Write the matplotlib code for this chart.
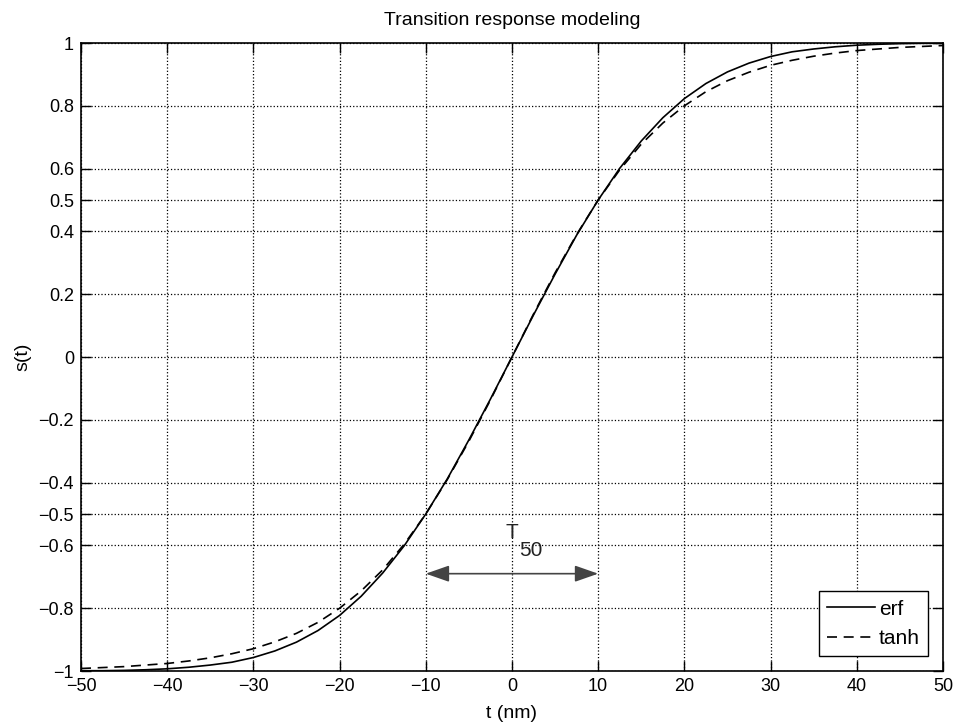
import matplotlib.pyplot as plt


# values

t_nm = [
    -50, -47.5, -45, -42.5, -40, -37.5, -35, -32.5, -30, -27.5,
    -25, -22.5, -20, -17.5, -15, -12.5, -10, -7.5, -5, -2.5,
    0,
    2.5, 5, 7.5, 10, 12.5, 15, 17.5, 20, 22.5,
    25, 27.5, 30, 32.5, 35, 37.5, 40, 42.5, 45, 47.5, 50
]

s_erf = [
    -0.999, -0.999, -0.998, -0.996, -0.993, -0.988, -0.981, -0.972, -0.957, -0.936,
    -0.908, -0.871, -0.823, -0.762, -0.688, -0.601, -0.500, -0.388, -0.264, -0.134,
    0.0,
    0.134, 0.264, 0.388, 0.500, 0.601, 0.688, 0.762, 0.823, 0.871,
    0.908, 0.936, 0.957, 0.972, 0.981, 0.988, 0.993, 0.996, 0.998, 0.999, 0.999
]

s_tanh = [
    -0.992, -0.989, -0.986, -0.981, -0.976, -0.968, -0.958, -0.945, -0.929, -0.907,
    -0.880, -0.845, -0.800, -0.745, -0.678, -0.596, -0.500, -0.390, -0.268, -0.137,
    0.0,
    0.137, 0.268, 0.390, 0.500, 0.596, 0.678, 0.745, 0.800, 0.845,
    0.880, 0.907, 0.929, 0.945, 0.958, 0.968, 0.976, 0.981, 0.986, 0.989, 0.992
]

x_ticks = [-50, -40, -30, -20, -10, 0, 10, 20, 30, 40, 50]

y_ticks = [-1, -0.8, -0.6, -0.5, -0.4, -0.2, 0, 0.2, 0.4, 0.5, 0.6, 0.8, 1]

y_tick_labels = [
    "\u22121", "\u22120.8", "\u22120.6", "\u22120.5", "\u22120.4", "\u22120.2",
    "0", "0.2", "0.4", "0.5", "0.6", "0.8", "1"
]

t50_span = [-10, 10]
t50_level = -0.69


plt.rcParams["font.family"] = ["Liberation Sans", "DejaVu Sans"]


def plot_transition_response():

    fig = plt.figure(
        figsize=(9.62, 7.23),
        dpi=100
    )

    ax = fig.add_axes(
        [0.0842, 0.0719, 0.896, 0.8686]
    )


    ax.plot(
        t_nm,
        s_erf,
        color="black",
        linewidth=1.2,
        label="erf"
    )

    ax.plot(
        t_nm,
        s_tanh,
        color="black",
        linewidth=1.2,
        linestyle=(0, (6, 4)),
        label="tanh"
    )


    # T50 double arrow

    ax.annotate(
        "",
        xy=(t50_span[0], t50_level),
        xytext=(t50_span[1], t50_level),
        arrowprops=dict(
            arrowstyle="<|-|>,head_length=0.8,head_width=0.28",
            color="#444444",
            linewidth=1.2,
            mutation_scale=18,
            shrinkA=0,
            shrinkB=0
        )
    )

    ax.text(
        0.0,
        -0.56,
        "T",
        fontsize=15,
        ha="center",
        va="center",
        color="#222222"
    )

    ax.text(
        0.8,
        -0.615,
        "50",
        fontsize=15,
        ha="left",
        va="center",
        color="#222222"
    )


    ax.set_xlim(-50, 50)

    ax.set_ylim(-1, 1)

    ax.set_xticks(x_ticks)

    ax.set_xticklabels(
        [str(v).replace("-", "\u2212") for v in x_ticks]
    )

    ax.set_yticks(y_ticks)

    ax.set_yticklabels(y_tick_labels)


    ax.tick_params(
        direction="in",
        length=7,
        width=1.0,
        top=True,
        right=True,
        labelsize=13,
        pad=5
    )


    ax.grid(
        True,
        linestyle=":",
        color="black",
        linewidth=0.9
    )

    for spine in ax.spines.values():
        spine.set_linewidth(1.2)


    ax.set_title(
        "Transition response modeling",
        fontsize=14,
        pad=13
    )

    ax.set_xlabel(
        "t (nm)",
        fontsize=14,
        labelpad=7
    )

    ax.set_ylabel(
        "s(t)",
        fontsize=14,
        labelpad=5
    )


    leg = ax.legend(
        loc="lower right",
        fontsize=15,
        fancybox=False,
        framealpha=1,
        edgecolor="black",
        handlelength=2.3,
        handletextpad=0.2,
        borderpad=0.4,
        labelspacing=0.5,
        borderaxespad=0.7
    )

    leg.get_frame().set_linewidth(1.0)


    fig.savefig(
        "out.png",
        dpi=100
    )

    plt.close(fig)


plot_transition_response()
